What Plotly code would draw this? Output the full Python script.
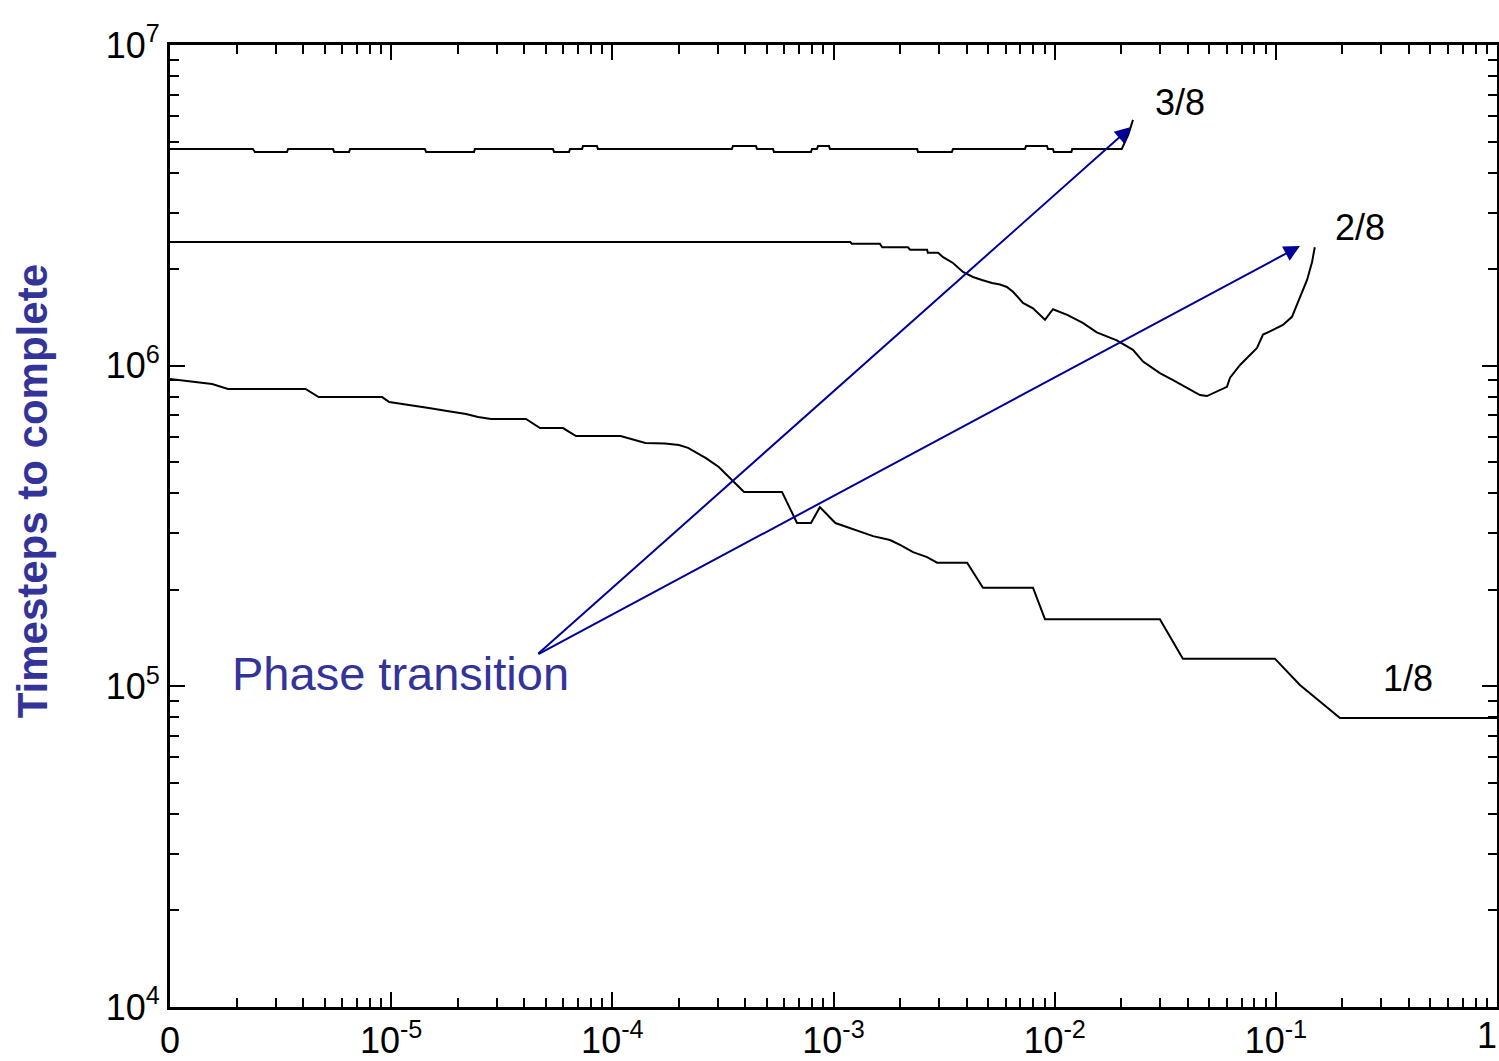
import plotly.graph_objects as go
import numpy as np

# ---------------- data ----------------
# series "1/8"
x_18 = [1e-6, 1.55e-6, 1.83e-6, 4.1e-6, 4.7e-6, 9.1e-6, 9.8e-6, 1.23e-5, 1.48e-5, 1.79e-5,
        2.18e-5, 2.47e-5, 2.83e-5, 4.07e-5, 4.71e-5, 5.98e-5, 6.85e-5, 1.09e-4, 1.41e-4, 1.73e-4,
        2.0e-4, 2.2e-4, 2.65e-4, 3.03e-4, 3.47e-4, 3.94e-4, 5.85e-4, 6.84e-4, 7.91e-4, 8.68e-4,
        1.02e-3, 1.28e-3, 1.51e-3, 1.8e-3, 2.0e-3, 2.29e-3, 2.65e-3, 2.94e-3, 4.02e-3, 4.74e-3,
        7.98e-3, 9.04e-3, 2.99e-2, 3.8e-2, 9.9e-2, 0.1285, 0.195, 1.0]
y_18 = [9.09e5, 8.77e5, 8.46e5, 8.46e5, 7.98e5, 7.98e5, 7.70e5, 7.54e5, 7.38e5, 7.22e5,
        7.07e5, 6.92e5, 6.82e5, 6.82e5, 6.39e5, 6.39e5, 6.03e5, 6.03e5, 5.74e5, 5.72e5,
        5.66e5, 5.54e5, 5.15e5, 4.83e5, 4.40e5, 4.04e5, 4.04e5, 3.23e5, 3.23e5, 3.62e5,
        3.23e5, 3.05e5, 2.94e5, 2.86e5, 2.76e5, 2.62e5, 2.53e5, 2.43e5, 2.43e5, 2.03e5,
        2.03e5, 1.62e5, 1.62e5, 1.22e5, 1.22e5, 1.01e5, 7.96e4, 7.96e4]

# series "2/8"
x_28 = [1e-6, 1.19e-3, 1.21e-3, 1.62e-3, 1.66e-3, 2.17e-3, 2.22e-3, 2.65e-3, 2.67e-3, 2.97e-3,
        3.13e-3, 3.47e-3, 3.85e-3, 4.27e-3, 4.69e-3, 5.21e-3, 5.66e-3, 6.08e-3, 6.48e-3, 7.19e-3,
        7.98e-3, 9.04e-3, 9.82e-3, 1.14e-2, 1.34e-2, 1.55e-2, 1.91e-2, 2.26e-2, 2.51e-2, 2.99e-2,
        3.43e-2, 3.96e-2, 4.54e-2, 4.88e-2, 6.01e-2, 6.21e-2, 6.89e-2, 8.22e-2, 8.75e-2, 9.41e-2,
        0.1077, 0.1183, 0.1247, 0.1313, 0.1384, 0.1457, 0.150]
y_28 = [2.43e6, 2.43e6, 2.40e6, 2.40e6, 2.34e6, 2.34e6, 2.30e6, 2.30e6, 2.25e6, 2.25e6,
        2.18e6, 2.09e6, 1.96e6, 1.89e6, 1.85e6, 1.81e6, 1.79e6, 1.76e6, 1.70e6, 1.57e6,
        1.51e6, 1.39e6, 1.50e6, 1.44e6, 1.36e6, 1.27e6, 1.20e6, 1.12e6, 1.03e6, 9.48e5,
        9.02e5, 8.51e5, 8.10e5, 8.04e5, 8.59e5, 9.17e5, 1.005e6, 1.135e6, 1.25e6, 1.28e6,
        1.34e6, 1.42e6, 1.55e6, 1.70e6, 1.85e6, 2.10e6, 2.34e6]

# series "3/8"
x_38 = [1e-6, 2.37e-6, 2.42e-6, 3.38e-6, 3.42e-6, 5.46e-6, 5.52e-6, 6.45e-6, 6.52e-6, 1.42e-5,
        1.44e-5, 2.37e-5, 2.39e-5, 5.39e-5, 5.45e-5, 6.37e-5, 6.44e-5, 7.30e-5, 7.37e-5, 8.52e-5,
        8.61e-5, 3.47e-4, 3.51e-4, 4.46e-4, 4.51e-4, 5.33e-4, 5.38e-4, 7.91e-4, 7.99e-4, 8.42e-4,
        8.51e-4, 9.54e-4, 9.64e-4, 2.39e-3, 2.41e-3, 3.43e-3, 3.47e-3, 7.34e-3, 7.42e-3, 9.23e-3,
        9.32e-3, 9.82e-3, 9.92e-3, 1.19e-2, 1.20e-2, 2.01e-2, 2.15e-2, 2.26e-2]
y_38 = [4.74e6, 4.74e6, 4.64e6, 4.64e6, 4.74e6, 4.74e6, 4.64e6, 4.64e6, 4.74e6, 4.74e6,
        4.64e6, 4.64e6, 4.74e6, 4.74e6, 4.64e6, 4.64e6, 4.74e6, 4.74e6, 4.84e6, 4.84e6,
        4.74e6, 4.74e6, 4.84e6, 4.84e6, 4.74e6, 4.74e6, 4.64e6, 4.64e6, 4.74e6, 4.74e6,
        4.84e6, 4.84e6, 4.74e6, 4.74e6, 4.64e6, 4.64e6, 4.74e6, 4.74e6, 4.84e6, 4.84e6,
        4.74e6, 4.74e6, 4.64e6, 4.64e6, 4.74e6, 4.74e6, 5.24e6, 5.84e6]

x_tickvals = [1e-6, 1e-5, 1e-4, 1e-3, 1e-2, 1e-1, 1]
x_ticktext = ["0", "10<sup>-5</sup>", "10<sup>-4</sup>", "10<sup>-3</sup>",
              "10<sup>-2</sup>", "10<sup>-1</sup>", ""]
x_edge_label = "1"   # last x tick label, drawn flush with the right edge
y_tickvals = [1e4, 1e5, 1e6, 1e7]
y_ticktext = ["10<sup>4</sup>", "10<sup>5</sup>", "10<sup>6</sup>", "10<sup>7</sup>"]

series_labels = ["3/8", "2/8", "1/8"]
label_pos = [(-1.433, 6.822), (-0.620, 6.432), (-0.403, 5.026)]  # log10 coords

# ---------------- figure ----------------
TICKFONT = dict(family="Liberation Sans Narrow, Liberation Sans, Arial", size=36, color="black")
BLUE_TXT = "#333399"
BLUE_ARR = "#000099"

fig = go.Figure()
for xs, ys in [(x_38, y_38), (x_28, y_28), (x_18, y_18)]:
    fig.add_trace(go.Scatter(x=xs, y=ys, mode="lines",
                             line=dict(color="black", width=2),
                             showlegend=False, hoverinfo="skip"))

def minor_vals(lo, hi):
    return [k * 10.0 ** d for d in range(lo, hi) for k in range(2, 10)]

axis_common = dict(
    type="log", showgrid=False, zeroline=False,
    showline=True, linecolor="black", linewidth=3, mirror="ticks",
    ticks="inside", ticklen=15, tickwidth=2, tickcolor="black",
    tickfont=TICKFONT, ticklabeloverflow="allow", automargin=False,
)

fig.update_xaxes(**axis_common, range=[-6, 0],
                 tickmode="array", tickvals=x_tickvals, ticktext=x_ticktext,
                 minor=dict(tickvals=minor_vals(-6, 0), ticks="inside", ticklen=9,
                            tickwidth=2, tickcolor="black", showgrid=False))
fig.update_yaxes(**axis_common, range=[4, 7],
                 tickmode="array", tickvals=y_tickvals, ticktext=y_ticktext,
                 minor=dict(tickvals=minor_vals(4, 7), ticks="inside", ticklen=9,
                            tickwidth=2, tickcolor="black", showgrid=False))

annotations = []
for lab, (lx, ly) in zip(series_labels, label_pos):
    annotations.append(dict(x=lx, y=ly, xref="x", yref="y", text=lab, showarrow=False,
                            font=TICKFONT, xanchor="center", yanchor="middle"))

# right-most x tick label, kept inside the page
annotations.append(dict(x=0, y=0, xref="x", yref="paper", text=x_edge_label, showarrow=False,
                        font=TICKFONT, xanchor="right", yanchor="top", yshift=-6, xshift=2))

# Phase transition text and arrows
tail = (-4.341, 5.098)
heads = [(-1.655, 6.744), (-0.891, 6.373)]
for hx, hy in heads:
    annotations.append(dict(x=hx, y=hy, xref="x", yref="y", ax=tail[0], ay=tail[1],
                            axref="x", ayref="y", text="", showarrow=True,
                            arrowhead=2, arrowsize=1.6, arrowwidth=2, arrowcolor=BLUE_ARR))
annotations.append(dict(x=-4.960, y=5.0385, xref="x", yref="y", text="Phase transition",
                        showarrow=False, xanchor="center", yanchor="middle",
                        font=dict(family="Liberation Sans, Arial", size=47, color=BLUE_TXT)))

# Y-axis title
annotations.append(dict(x=-0.104, y=0.536, xref="paper", yref="paper",
                        text="<b>Timesteps to complete</b>", textangle=-90, showarrow=False,
                        xanchor="center", yanchor="middle",
                        font=dict(family="Liberation Sans, Arial", size=42, color=BLUE_TXT)))

fig.update_layout(
    width=1499, height=1061,
    margin=dict(l=170, r=2, t=45, b=54, autoexpand=False),
    paper_bgcolor="white", plot_bgcolor="white",
    annotations=annotations,
)

fig.write_html("out.html")
